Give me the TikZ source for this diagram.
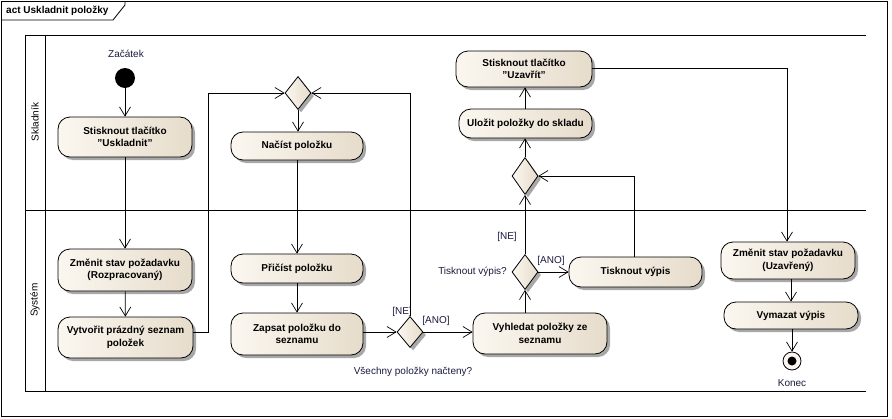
\documentclass[tikz,border=0pt]{standalone}
\usepackage{fontspec}
\setmainfont{Liberation Sans}
\usetikzlibrary{arrows.meta,shapes.geometric,shadows,calc}
\definecolor{actL}{HTML}{FBF7F0}
\definecolor{actR}{HTML}{E6DCCB}
\definecolor{shd}{HTML}{A8A8A8}
\definecolor{lbl}{HTML}{1A1A40}
\begin{document}
\begin{tikzpicture}[x=1pt,y=-1pt,
  every node/.style={inner sep=0pt},
  actbox/.style={draw=black, line width=0.8pt, rounded corners=12pt, align=center,
    font=\bfseries\fontsize{10}{12.5}\selectfont, left color=actL, right color=actR,
    drop shadow={shadow xshift=3pt, shadow yshift=-3pt, fill=shd, opacity=1}},
  decbox/.style={draw=black, line width=0.8pt, diamond, left color=actL, right color=actR,
    drop shadow={shadow xshift=3pt, shadow yshift=-3pt, fill=shd, opacity=1}},
  arr/.style={line width=0.8pt, -{Straight Barb[length=9pt,width=11pt,line width=0.7pt]}},
  ln/.style={line width=0.8pt},
  txt/.style={font=\fontsize{10}{12}\selectfont, text=lbl},
]
\useasboundingbox (0,0) rectangle (892,418);
% frame
\draw[line width=0.8pt] (1,1) rectangle (887,416);
\draw[line width=0.8pt] (1,20) -- (113,20) -- (125,5) -- (125,1);
\node[anchor=west, font=\bfseries\fontsize{10}{12}\selectfont] (title) at (6,11) {act Uskladnit položky};
% pool
\draw[line width=1pt] (866,35) -- (25,35) -- (25,391) -- (866,391);
\draw[line width=1pt] (45,35) -- (45,391);
\draw[line width=1pt] (25,210) -- (866,210);
\node[rotate=90, font=\fontsize{10}{12}\selectfont] (laneA) at (35,122) {Skladník};
\node[rotate=90, font=\fontsize{10}{12}\selectfont] (laneB) at (35,300) {Systém};
% nodes
\node[circle, fill=black, minimum size=20pt] (start) at (125,78) {};
\node[txt] (startlbl) at (126,54) {Začátek};
\node[actbox, minimum width=134pt, minimum height=40pt] (uskl) at (125,137) {Stisknout tlačítko\\"Uskladnit"};
\node[actbox, minimum width=134pt, minimum height=42pt] (rozp) at (125,270) {Změnit stav požadavku\\(Rozpracovaný)};
\node[actbox, minimum width=135pt, minimum height=41pt] (vytv) at (125.5,337.5) {Vytvořit prázdný seznam\\položek};
\node[decbox, minimum width=26pt, minimum height=33pt] (d1) at (298,93) {};
\node[actbox, minimum width=132pt, minimum height=28pt] (nacist) at (297,146) {Načíst položku};
\node[actbox, minimum width=132pt, minimum height=29pt] (pricist) at (297,268.5) {Přičíst položku};
\node[actbox, minimum width=132pt, minimum height=42pt] (zapsat) at (297,334) {Zapsat položku do\\seznamu};
\node[decbox, minimum width=26pt, minimum height=31pt] (d2) at (410,332) {};
\node[actbox, minimum width=134pt, minimum height=41pt] (vyhl) at (540,333.5) {Vyhledat položky ze\\seznamu};
\node[decbox, minimum width=26pt, minimum height=35pt] (d3) at (525,272) {};
\node[actbox, minimum width=133pt, minimum height=30pt] (tisk) at (635.5,272) {Tisknout výpis};
\node[decbox, minimum width=26pt, minimum height=37pt] (d4) at (525,176) {};
\node[actbox, minimum width=133pt, minimum height=29pt] (ulozit) at (525.5,123.5) {Uložit položky do skladu};
\node[actbox, minimum width=136pt, minimum height=36pt] (uzavrit) at (524,69) {Stisknout tlačítko\\"Uzavřít"};
\node[actbox, minimum width=134pt, minimum height=37pt] (uzavreny) at (788,260.5) {Změnit stav požadavku\\(Uzavřený)};
\node[actbox, minimum width=134pt, minimum height=27pt] (vymazat) at (791,315.5) {Vymazat výpis};
\node[circle, draw=black, line width=0.8pt, fill=actL, minimum size=18pt] (end) at (792,361) {};
\fill[black] (end.center) circle (4.5pt);
\node[txt] (endlbl) at (792,383) {Konec};
% labels
\node[txt] (ne1) at (402,312) {[NE]};
\node[txt] (ano1) at (436,321) {[ANO]};
\node[txt] (q1) at (413,372) {Všechny položky načteny?};
\node[txt] (ne2) at (507,237) {[NE]};
\node[txt, anchor=east] (q2) at (507,272) {Tisknout výpis?};
\node[txt] (ano2) at (551,261) {[ANO]};
% connectors
\draw[arr] (start) -- (uskl);
\draw[arr] (uskl) -- (rozp);
\draw[arr] (rozp) -- (vytv);
\draw[arr] ([yshift=5pt]vytv.east) -- ++(15,0) |- (d1.west);
\draw[arr] (d1.south) -- (nacist.north -| d1.south);
\draw[arr] (nacist) -- (pricist);
\draw[arr] (pricist) -- (zapsat);
\draw[arr] (zapsat.east |- d2.west) -- (d2.west);
\draw[arr] (d2.north) |- (d1.east);
\draw[arr] (d2.east) -- (d2.east -| vyhl.west);
\draw[arr] (d3.south |- vyhl.north) -- (d3.south);
\draw[arr] (d3.east) -- (d3.east -| tisk.west);
\draw[arr] (d3.north) -- (d4.south);
\draw[arr] ([xshift=-1.5pt]tisk.north) |- (d4.east);
\draw[arr] (d4.north) -- (d4.north |- ulozit.south);
\draw[arr] (ulozit.north -| d4.north) -- (d4.north |- uzavrit.south);
\draw[arr] ([yshift=1pt]uzavrit.east) -| ([xshift=-1pt]uzavreny.north);
\draw[arr] (vymazat.north |- uzavreny.south) -- (vymazat.north);
\draw[arr] (vymazat.south -| end.north) -- (end.north);
\end{tikzpicture}
\end{document}
